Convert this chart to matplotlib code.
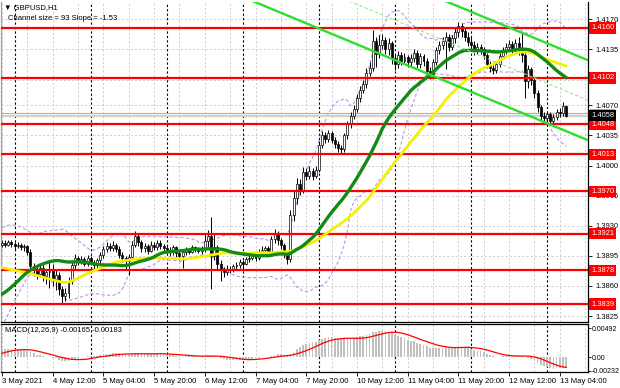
import numpy as np
import pandas as pd
import matplotlib
matplotlib.use("Agg")
import matplotlib.pyplot as plt
from matplotlib.patches import Rectangle

plt.rcParams['font.family'] = ['Liberation Sans', 'DejaVu Sans']

# ---------------- data ----------------
# closes of the 50 hourly bars before the first visible bar (needed for the indicators)
history_close = [1.3945, 1.3950, 1.3948, 1.3952, 1.3946, 1.3940, 1.3938, 1.3942, 1.3936, 1.3930,
                 1.3934, 1.3928, 1.3932, 1.3926, 1.3930, 1.3924, 1.3920, 1.3915, 1.3905, 1.3895,
                 1.3860, 1.3840, 1.3825, 1.3815, 1.3805, 1.3800, 1.3798, 1.3802, 1.3805, 1.3808,
                 1.3812, 1.3818, 1.3825, 1.3830, 1.3838, 1.3842, 1.3848, 1.3855, 1.3860, 1.3866,
                 1.3870, 1.3876, 1.3882, 1.3886, 1.3890, 1.3895, 1.3898, 1.3902, 1.3906, 1.3908]

close = [1.3910, 1.3908, 1.3911, 1.3909, 1.3906, 1.3908, 1.3905, 1.3906, 1.3900, 1.3883,
         1.3878, 1.3874, 1.3881, 1.3872, 1.3876, 1.3879, 1.3868, 1.3873, 1.3856, 1.3848,
         1.3852, 1.3866, 1.3884, 1.3892, 1.3888, 1.3891, 1.3886, 1.3893, 1.3887, 1.3884,
         1.3890, 1.3896, 1.3903, 1.3907, 1.3904, 1.3908, 1.3903, 1.3896, 1.3892, 1.3889,
         1.3894, 1.3908, 1.3918, 1.3911, 1.3904, 1.3906, 1.3901, 1.3908, 1.3905, 1.3910,
         1.3906, 1.3904, 1.3902, 1.3899, 1.3905, 1.3898, 1.3895, 1.3899, 1.3902, 1.3900,
         1.3905, 1.3903, 1.3901, 1.3904, 1.3912, 1.3918, 1.3895, 1.3905, 1.3886, 1.3878,
         1.3876, 1.3880, 1.3879, 1.3883, 1.3884, 1.3888, 1.3886, 1.3891, 1.3893, 1.3896,
         1.3892, 1.3898, 1.3902, 1.3904, 1.3900, 1.3915, 1.3922, 1.3913, 1.3908, 1.3898,
         1.3891, 1.3942, 1.3962, 1.3978, 1.3972, 1.3992, 1.3988, 1.3994, 1.3988, 1.3995,
         1.4024, 1.4036, 1.4031, 1.4038, 1.4030, 1.4025, 1.4020, 1.4019, 1.4035, 1.4048,
         1.4058, 1.4066, 1.4078, 1.4088, 1.4095, 1.4108, 1.4114, 1.4145, 1.4130, 1.4140,
         1.4146, 1.4135, 1.4142, 1.4125, 1.4118, 1.4128, 1.4122, 1.4126, 1.4120, 1.4125,
         1.4131, 1.4118, 1.4127, 1.4122, 1.4110, 1.4107, 1.4120, 1.4134, 1.4140, 1.4145,
         1.4150, 1.4138, 1.4148, 1.4155, 1.4162, 1.4157, 1.4150, 1.4144, 1.4140, 1.4134,
         1.4138, 1.4135, 1.4128, 1.4118, 1.4114, 1.4111, 1.4118, 1.4127, 1.4134, 1.4138,
         1.4141, 1.4136, 1.4142, 1.4135, 1.4128, 1.4098, 1.4112, 1.4100, 1.4084, 1.4068,
         1.4058, 1.4055, 1.4060, 1.4052, 1.4056, 1.4062, 1.4061, 1.4069, 1.4058]

high = [1.3914, 1.3913, 1.3914, 1.3913, 1.3911, 1.3911, 1.3910, 1.3909, 1.3908, 1.3903,
        1.3887, 1.3882, 1.3886, 1.3884, 1.3880, 1.3889, 1.3885, 1.3880, 1.3876, 1.3860,
        1.3858, 1.3870, 1.3888, 1.3897, 1.3895, 1.3895, 1.3894, 1.3896, 1.3895, 1.3890,
        1.3893, 1.3899, 1.3906, 1.3911, 1.3910, 1.3912, 1.3910, 1.3906, 1.3899, 1.3895,
        1.3897, 1.3912, 1.3924, 1.3922, 1.3914, 1.3910, 1.3909, 1.3912, 1.3911, 1.3914,
        1.3913, 1.3909, 1.3907, 1.3905, 1.3908, 1.3907, 1.3901, 1.3902, 1.3905, 1.3904,
        1.3908, 1.3907, 1.3905, 1.3907, 1.3920, 1.3925, 1.3940, 1.3920, 1.3908, 1.3890,
        1.3882, 1.3884, 1.3883, 1.3886, 1.3888, 1.3891, 1.3890, 1.3894, 1.3897, 1.3899,
        1.3899, 1.3903, 1.3906, 1.3907, 1.3906, 1.3918, 1.3926, 1.3924, 1.3916, 1.3910,
        1.3900, 1.3948, 1.3970, 1.3985, 1.3984, 1.3998, 1.3997, 1.3999, 1.3997, 1.3999,
        1.4028, 1.4040, 1.4039, 1.4041, 1.4040, 1.4033, 1.4028, 1.4024, 1.4038, 1.4052,
        1.4062, 1.4071, 1.4083, 1.4093, 1.4100, 1.4113, 1.4120, 1.4158, 1.4150, 1.4152,
        1.4153, 1.4150, 1.4148, 1.4145, 1.4130, 1.4133, 1.4132, 1.4131, 1.4129, 1.4130,
        1.4135, 1.4134, 1.4131, 1.4130, 1.4125, 1.4115, 1.4124, 1.4138, 1.4145, 1.4150,
        1.4155, 1.4153, 1.4152, 1.4160, 1.4167, 1.4166, 1.4161, 1.4155, 1.4150, 1.4145,
        1.4142, 1.4141, 1.4138, 1.4131, 1.4122, 1.4117, 1.4121, 1.4131, 1.4138, 1.4143,
        1.4146, 1.4145, 1.4147, 1.4150, 1.4154, 1.4132, 1.4117, 1.4115, 1.4103, 1.4088,
        1.4071, 1.4062, 1.4063, 1.4062, 1.4060, 1.4066, 1.4067, 1.4074, 1.4070]

low = [1.3905, 1.3905, 1.3906, 1.3905, 1.3903, 1.3904, 1.3902, 1.3901, 1.3896, 1.3879,
       1.3872, 1.3868, 1.3870, 1.3866, 1.3862, 1.3858, 1.3860, 1.3855, 1.3850, 1.3840,
       1.3842, 1.3846, 1.3862, 1.3880, 1.3884, 1.3885, 1.3883, 1.3883, 1.3884, 1.3879,
       1.3881, 1.3887, 1.3893, 1.3900, 1.3901, 1.3901, 1.3899, 1.3892, 1.3888, 1.3880,
       1.3873, 1.3891, 1.3905, 1.3907, 1.3900, 1.3900, 1.3897, 1.3899, 1.3902, 1.3902,
       1.3903, 1.3900, 1.3898, 1.3895, 1.3896, 1.3894, 1.3890, 1.3881, 1.3896, 1.3897,
       1.3898, 1.3900, 1.3898, 1.3897, 1.3900, 1.3905, 1.3856, 1.3890, 1.3878, 1.3866,
       1.3870, 1.3873, 1.3875, 1.3876, 1.3880, 1.3881, 1.3882, 1.3884, 1.3888, 1.3890,
       1.3889, 1.3890, 1.3895, 1.3899, 1.3896, 1.3898, 1.3910, 1.3908, 1.3903, 1.3892,
       1.3885, 1.3888, 1.3936, 1.3955, 1.3966, 1.3968, 1.3983, 1.3984, 1.3983, 1.3985,
       1.3992, 1.4020, 1.4026, 1.4027, 1.4026, 1.4020, 1.4016, 1.4014, 1.4016, 1.4031,
       1.4044, 1.4054, 1.4062, 1.4074, 1.4084, 1.4090, 1.4104, 1.4110, 1.4115, 1.4125,
       1.4135, 1.4130, 1.4128, 1.4118, 1.4111, 1.4114, 1.4117, 1.4118, 1.4115, 1.4116,
       1.4120, 1.4114, 1.4114, 1.4116, 1.4105, 1.4101, 1.4104, 1.4117, 1.4130, 1.4135,
       1.4112, 1.4133, 1.4134, 1.4143, 1.4150, 1.4150, 1.4145, 1.4139, 1.4134, 1.4129,
       1.4130, 1.4130, 1.4124, 1.4113, 1.4109, 1.4106, 1.4108, 1.4115, 1.4124, 1.4130,
       1.4133, 1.4130, 1.4132, 1.4128, 1.4120, 1.4078, 1.4090, 1.4094, 1.4078, 1.4062,
       1.4052, 1.4050, 1.4051, 1.4047, 1.4049, 1.4053, 1.4056, 1.4058, 1.4056]

levels = [1.4160, 1.4102, 1.4048, 1.4013, 1.3970, 1.3921, 1.3878, 1.3839]
price_ticks = [1.4170, 1.4135, 1.4100, 1.4070, 1.4035, 1.4000, 1.3965, 1.3930, 1.3895, 1.3860, 1.3825]
price_tick_texts = ['1.4170', '1.4135', '', '1.4070', '1.4035', '1.4000', '1.3965', '1.3930',
                    '1.3895', '1.3860', '1.3825']
time_tick_pos = [0, 16, 32, 48, 64, 80, 96, 112, 128, 144, 160, 176]
time_tick_labels = ['3 May 2021', '4 May 12:00', '5 May 04:00', '5 May 20:00', '6 May 12:00',
                    '7 May 04:00', '7 May 20:00', '10 May 12:00', '11 May 04:00', '11 May 20:00',
                    '12 May 12:00', '13 May 04:00']
day_start_bars = [4, 28, 52, 76, 100, 124, 148, 172]
bid_price = 1.4058
ask_price = 1.4061
channel_anchor_bar = 178
channel_anchor_price = 1.4040   # lower channel line
channel_slope = -0.000153       # price per bar
channel_size = 0.0093
macd_axis_labels = [0.00492, 0.0, -0.00232]
macd_axis_texts = ['0.00492', '0.00', '-0.00232']
title_text = 'GBPUSD,H1'
channel_text = 'Channel size = 93 Slope = -1.53'
macd_text = 'MACD(12,26,9) -0.00165 -0.00183'

# ---------------- indicators ----------------
n_hist = len(history_close)
all_close = pd.Series(history_close + close)
x = np.arange(len(close))
opens = np.array([history_close[-1]] + close[:-1])
closes = np.array(close)
sma30 = all_close.rolling(30).mean().to_numpy()[n_hist:]
sma50 = all_close.rolling(50).mean().to_numpy()[n_hist:]
mid20 = all_close.rolling(20).mean()
sd20 = all_close.rolling(20).std(ddof=0)
bb_up = (mid20 + 2 * sd20).to_numpy()[n_hist:]
bb_dn = (mid20 - 2 * sd20).to_numpy()[n_hist:]
ema12 = all_close.ewm(span=12, adjust=False).mean()
ema26 = all_close.ewm(span=26, adjust=False).mean()
macd_main = (ema12 - ema26)
macd_sig = macd_main.rolling(9).mean()
macd_main = macd_main.to_numpy()[n_hist:]
macd_sig = macd_sig.to_numpy()[n_hist:]

# ---------------- figure ----------------
W, H = 620, 388
fig = plt.figure(figsize=(W / 100, H / 100), dpi=100)
ax = fig.add_axes([1 / W, 1 - 322 / H, 587 / W, 320 / H])
ax2 = fig.add_axes([1 / W, 1 - 372 / H, 587 / W, 48 / H])

xlim = (-0.3, 184.9)
ax.set_xlim(*xlim)
ax2.set_xlim(*xlim)
ax.set_ylim(1.38181, 1.41902)
ax2.set_ylim(-0.00254, 0.00560)

grid_kw = dict(color='#c8c8c8', lw=0.6, ls=(0, (2.5, 2.5)), zorder=0)
for gx in range(0, 190, 8):
    ax.axvline(gx, **grid_kw)
    ax2.axvline(gx, **grid_kw)
for p in price_ticks:
    ax.axhline(p, **grid_kw)
for d in day_start_bars:
    ax.axvline(d, color='black', lw=0.8, ls=(0, (2, 2)), zorder=0.5)
    ax2.axvline(d, color='black', lw=0.8, ls=(0, (2, 2)), zorder=0.5)

# Bollinger bands
ax.plot(x, bb_up, color='#bf92ea', lw=0.8, ls=(0, (3, 2)), zorder=1)
ax.plot(x, bb_dn, color='#bf92ea', lw=0.8, ls=(0, (3, 2)), zorder=1)

# bid / ask lines
ax.axhline(bid_price, color='#d0d0d0', lw=1.6, zorder=1)
ax.axhline(ask_price, color='#ff9a50', lw=0.8, zorder=1)

# candles
ax.vlines(x, low, high, color='black', lw=0.7, zorder=2)
body_bottom = np.minimum(opens, closes)
body_h = np.maximum(np.abs(closes - opens), 0.00004)
face = ['white' if c >= o else 'black' for o, c in zip(opens, closes)]
ax.bar(x, body_h, bottom=body_bottom, width=0.62, color=face, edgecolor='black',
       linewidth=0.5, zorder=3)

# horizontal levels
for lv in levels:
    ax.axhline(lv, color='#ff0000', lw=1.6, zorder=4)

# moving averages
ax.plot(x, sma50, color='#f5f000', lw=2.0, zorder=5)
ax.plot(x, sma30, color='#138a13', lw=2.4, zorder=6)

# channel
cx = np.array([40, 195])
lower = channel_anchor_price + channel_slope * (cx - channel_anchor_bar)
ax.plot(cx, lower, color='#2be02b', lw=1.7, zorder=6)
ax.plot(cx, lower + channel_size, color='#2be02b', lw=1.7, zorder=6)
ax.plot(cx, lower + channel_size / 2, color='#8eea8e', lw=0.8, ls=(0, (3, 2)), zorder=6)

# axes styling
for a in (ax, ax2):
    a.set_facecolor('white')
    a.spines['left'].set_color('#a0a0a0')
    a.spines['right'].set_color('black')
    a.spines['top'].set_color('black')
    a.spines['bottom'].set_color('black')
    for s in a.spines.values():
        s.set_linewidth(0.9)
ax.spines['top'].set_visible(False)

ax.yaxis.tick_right()
ax.set_yticks(price_ticks)
ax.set_yticklabels(price_tick_texts)
ax.tick_params(axis='y', direction='out', length=3, width=0.6, pad=2, labelsize=5.4)
ax.set_xticks([])

ax2.yaxis.tick_right()
ax2.set_yticks(macd_axis_labels)
ax2.set_yticklabels(macd_axis_texts)
ax2.tick_params(axis='y', direction='out', length=2, width=0.6, pad=1, labelsize=5.0)
ax2.set_xticks(time_tick_pos)
ax2.set_xticklabels(time_tick_labels, ha='left')
ax2.tick_params(axis='x', direction='out', length=3, width=0.6, pad=1.5, labelsize=5.6)

# MACD
ax2.bar(x, macd_main, width=0.55, color='#c0c0c0', zorder=2)
ax2.plot(x, macd_sig, color='#ff0000', lw=0.9, zorder=3)

# price labels on right axis
ytr = ax.get_yaxis_transform()
for lv in levels:
    ax.text(1.0 + 3 / 587, lv, f'{lv:.4f}', transform=ytr, ha='left', va='center',
            fontsize=5.4, color='white', clip_on=False, zorder=10,
            bbox=dict(boxstyle='square,pad=0.3', fc='#ff0000', ec='none'))
# ask marker box (its text is hidden under the bid label in the reference)
ax.add_patch(Rectangle((1.0 + 1.5 / 587, ask_price - 0.0006), 25 / 587, 0.0011,
                       transform=ytr, fc='#ff8c40', ec='none', clip_on=False, zorder=9))
ax.text(1.0 + 3 / 587, bid_price, f'{bid_price:.4f}', transform=ytr, ha='left', va='center',
        fontsize=5.4, color='white', clip_on=False, zorder=11,
        bbox=dict(boxstyle='square,pad=0.3', fc='black', ec='none'))

# header texts
fig.text(4 / W, 1 - 8 / H, '\u25bc ' + title_text, fontsize=5.5, va='center', ha='left')
fig.text(8 / W, 1 - 19 / H, channel_text, fontsize=5.5, va='center', ha='left')
fig.text(5 / W, 1 - 331 / H, macd_text, fontsize=5.5, va='center', ha='left')

fig.savefig('out.png', dpi=100, facecolor='white')
